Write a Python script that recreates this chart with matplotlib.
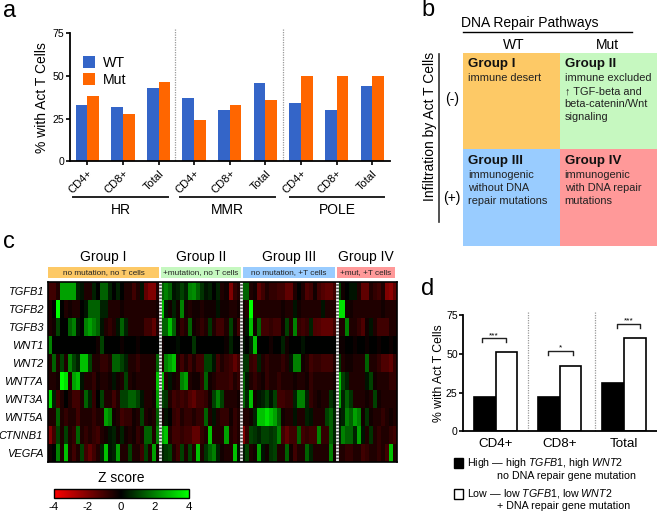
#!/usr/bin/env python3
"""Four panel figure: T cell infiltration vs DNA repair mutations -> out.png"""
import numpy as np
import matplotlib

matplotlib.use("Agg")
import matplotlib.pyplot as plt  # noqa: E402
from matplotlib.colors import LinearSegmentedColormap  # noqa: E402
from matplotlib.patches import Rectangle  # noqa: E402

plt.rcParams["font.family"] = ["Liberation Sans", "DejaVu Sans"]
plt.rcParams["mathtext.fontset"] = "custom"
plt.rcParams["mathtext.it"] = "Liberation Sans:italic"
plt.rcParams["mathtext.rm"] = "Liberation Sans"
plt.rcParams["axes.unicode_minus"] = False

W, H = 657, 513

# panel a
a_labels = ["CD4+", "CD8+", "Total"] * 3
a_wt = [33, 32, 43, 37, 30, 46, 34, 30, 44]
a_mut = [38, 27.5, 46.5, 24, 33, 36, 50, 50, 50]
a_groups = ["HR", "MMR", "POLE"]

# panel d
d_labels = ["CD4+", "CD8+", "Total"]
d_high = [22, 22, 31]
d_low = [51, 42, 60]
d_stars = ["***", "*", "***"]

genes = ["TGFB1", "TGFB2", "TGFB3", "WNT1", "WNT2", "WNT7A", "WNT3A", "WNT5A", "CTNNB1", "VEGFA"]
group_sizes = [28, 20, 24, 15]
tgfb1 = [-1, -1, -.5, 2.5, 2.5, 2.5, 2.5, .5, .3, -.5, -.5, .5, 0, 1.5, 1.5, .5, 0, .5, 0, -.5, -.5, -1, -.5, .3, -1.5, -2, -2, -.5,
         1.5, 2, 1.5, .3, .5, 1, .5, 2, 2.2, 1.5, .8, .3, .5, 0, .5, -.5, -.3, -2, -.8, -.5,
         1.5, 1.5, -.5, -.3, -1.5, -1, -.5, -.8, -.8, -1, -1, -1.5, -1.5, -.5, 0, -.5, -1.2, -1, -.3, -1, -1.3, -1.5, -1.5, -1,
         1, -.3, 0, .3, .3, -.5, -1.5, -1.5, -.5, -.8, -1, -.5, -2, -2.2, -1.5]
tgfb2 = [-.5, 0, 4, 0, -.5, -.3, -.5, -.5, 0, .3, 1.5, 1.5, 1.5, .5, .5, -.5, -.5, -.5, -.3, -.5, -.5, -.5, -.5, -.5, -.5, -.5, -.5, -.3,
         3, .3, -.3, .5, -.3, 2, -.3, -.5, -.3, -.3, -.5, -.3, -.3, -.3, .3, -.3, -.3, -.5, -.5, -.3,
         -.3, -.5, 4, -.5, -.5, -.5, -.5, -.5, -.5, -.5, -.3, -.5, -.5, .3, -.3, -.5, -.5, -.5, -.5, -.5, .3, -.5, -.5, -.5,
         3.5, 3.5, -.3, -.3, -.5, -.5, -.5, -.5, -.5, -.5, -.5, -.3, -.5, -.5, -.5]
tgfb3 = [-.5, -.3, 1, 0, 0, 1.5, 2, .3, 0, 2, 2.5, 2, 1.5, .3, -.5, -.8, -.5, .3, 1.5, .5, -.5, -.5, -.5, -.5, -1, -1, -1.5, -.5,
         1.5, 1.5, 3, 1.5, -.3, -.8, -.5, 1.5, -.3, -.5, -.8, -.5, .8, -.5, -1, -1, -.5, 1, -.3, -1,
         -.3, .3, 3, -.3, 1.5, -1, -1, -.8, -1, -1, -.3, 1, -.5, 2, -.8, -1, -.8, .5, -1.2, -1.3, -1.5, -1.5, -1.5, -1,
         -.5, -.5, 2, -.5, -.5, -.8, -1.2, -.3, .3, -.5, -1, -1, -1, -.5, -.5]
wnt1 = [2, 0, 0, 0, 0, 0, 0, 0, 0, 0, 0, 0, -.3, 1, 0, 0, 0, 0, -.2, 0, 0, 0, -.2, 0, 0, 0, 0, 0,
        -.2, 0, 0, 0, .2, 0, 0, 0, .8, 0, 0, 0, 0, 0, 0, 0, -.2, .5, 0, 0,
        .3, 0, .5, 3, 0, 0, 0, -.3, 0, 0, .5, -.3, 0, 0, 0, .3, 0, 0, 0, 0, 0, 0, 0, 0,
        -.2, -.2, 0, 0, -.2, 0, 0, -.2, 0, 0, -.2, 0, 0, -.2, 0]
wnt2 = [-.5, 1.5, -.5, 1, -.5, 2, 1, .5, 3, 3, 1, -.5, -.5, -.8, -.8, -.5, 1.5, 1.5, 1, .5, -.5, -.5, -.8, -.5, -.5, -.5, -.5, 1.5,
        -.5, 2, 2.5, 3, -.5, -1, -.5, -1, -.5, -1, -1, 1, 1, .3, -1, -.5, -.8, -1, -1.5, -1,
        .8, .8, -.8, -1, .5, -.5, -.8, -.5, -.5, -.5, -.8, -.5, .3, 2, 2, -.3, -.5, -1, -.8, -.8, -1, -1, -1, -.5,
        .8, -.5, -.3, -.3, -.5, -.5, -.5, 1.5, -.5, -.5, -.8, -1.2, -1.2, -1.5, -.8]
wnt7a = [-.5, -.5, -.3, 4, 3.5, -.5, 2.5, 3, .3, -.5, -.5, -.8, -.3, -.5, -.5, -.3, .3, -.3, -.5, 1, -.5, -.3, -.5, -.5, -.5, -.5, -.5, 3,
         3, -.5, .3, -.3, -.5, 2, 2.5, -.5, -.3, -.3, -.8, 1.5, -.3, -.5, -.8, -.8, -.8, -1, -.5, -.8,
         1.5, .3, -.5, -.8, -.5, -.3, -.8, -.5, -.5, -.8, -.5, -.5, -.5, -.3, -.5, -.5, -.3, -.8, -.5, -.5, -.5, -.5, -.5, -.3,
         3, 1, .5, -.5, -.5, -.5, -.5, .3, 1, -.3, -.5, -.5, -.5, -.8, -.8]
wnt3a = [3.5, .5, -1, -.5, 0, -.5, -1, -1, -.5, 1.5, .5, -.8, 0, 1, -.5, -.5, -1, -.5, 1, 1, 1.5, 1.5, 1, .3, -.5, -.5, -.3, 2.5,
         1, .8, -.5, -1, -.8, -1, -.8, -1.2, -1.5, -1, -1, -.8, -.3, 1, 2, 1, -.5, -.5, -.5, -.3,
         1.5, .5, 3, -.3, .3, .5, 1, .3, 1, -1, -1, -.8, -.8, .5, 2, 2, .5, -.8, -.5, -.3, -.5, -.5, .8, .3,
         2.5, .5, 1.5, .8, -.5, -.5, -.5, -.3, -.5, 1, -.3, -.5, -.5, -.5, -.5]
wnt5a = [-.5, -.5, 1.5, -.5, -.8, -.5, -.5, -1, -.5, -.5, -.5, -.8, -.5, -.5, 2.5, 2, -.3, -.5, -1, -.8, -.8, -.3, -.5, 1, -.5, -.3, -.5, 1.5,
         -.3, .3, 0, -.8, -1, -.5, -.8, -.8, -.5, -.8, -.8, 1.5, -.5, .3, -.5, -.8, -.8, -.3, -.8, -.5,
         -.5, -.5, -.3, .5, 3, 3, 3.5, 3, 2.5, 1.5, -.3, -.5, -.5, .3, -.5, -.5, .5, .3, -.5, -.5, -.5, 1, 1.5, .5,
         .3, .5, 2, 1.5, 2.5, 2, -.3, .8, -.3, -.5, -.5, -.8, -.5, -.3, -.5]
ctnnb1 = [-2, -1, 1, -.5, 1, -.5, -.8, 1.5, -.5, -.8, -.5, -.8, -1, -.5, -.3, .3, .5, -.3, .5, -.3, -.5, -.3, -.8, -.5, 1.5, 1.5, -.5, 2,
          2.5, 3, -.5, -1, -1, -.8, -1, -1, -1.5, -1.5, -.8, -.5, 3, -.5, -.5, -.5, 2.5, -.5, -.8, -.5,
          -2, -.8, 1, .8, .5, 1, 1, .8, 1, 2, -1, -1.5, -1, -1, 1.5, -1, -.8, -1, -1, 2, -.8, -.8, 1.5, .5,
          .5, 2, 1.5, 1.5, .5, 2.5, .3, -.5, .8, -.5, -.8, -.5, -.5, -.8, -1]
vegfa = [-.3, 0, 2, -.5, 3, -.5, -1, -.5, 1, -1, -1.5, -1, -.5, .5, 3, .3, .5, 2.5, -.5, -.5, 1, -.5, -.5, -1, 1, -.5, 2.5, -.3,
         .5, .8, 1, -.5, -1, 1, -.5, 1, -.5, 3, -.5, .8, 1.5, 2, .5, -.3, -.5, -.5, 3, .3,
         .3, 1, -.5, -.3, 2.5, .3, -.3, .8, 1, -.5, -.5, 1.5, -.3, -1, -.5, -.5, 1.5, .5, -.5, -.5, -.5, -.5, 2, -.3,
         -.5, -.5, -.8, -.8, -.5, -.5, -1, -.8, -.5, -.5, -.8, -.5, -1, 3, -.5]
z_rows = [tgfb1, tgfb2, tgfb3, wnt1, wnt2, wnt7a, wnt3a, wnt5a, ctnnb1, vegfa]

c_groups = ["Group I", "Group II", "Group III", "Group IV"]
c_sub = ["no mutation, no T cells", "+mutation, no T cells", "no mutation, +T cells", "+mut, +T cells"]
ORANGE, GREEN, BLUE, RED = "#FDC966", "#C6F8C0", "#99CCFF", "#FF9999"


def px_axes(fig, x0, y0, x1, y1, **kw):
    # axes from pixel box, y measured from the top
    return fig.add_axes([x0 / W, 1 - y1 / H, (x1 - x0) / W, (y1 - y0) / H], **kw)


def clean(ax):
    ax.spines["top"].set_visible(False)
    ax.spines["right"].set_visible(False)
    ax.spines["left"].set_linewidth(1.3)
    ax.spines["bottom"].set_linewidth(1.3)
    ax.patch.set_alpha(0)


fig = plt.figure(figsize=(W / 100, H / 100), dpi=100)

# overlay in pixel coordinates for the annotation bits
ov = fig.add_axes([0, 0, 1, 1])
ov.set_xlim(0, W); ov.set_ylim(H, 0); ov.axis("off")

# --- a
ax = px_axes(fig, 70, 33, 390, 161.3)
x = np.arange(9)
ax.bar(x - .164, a_wt, .328, color="#3465C8", label="WT")
ax.bar(x + .164, a_mut, .328, color="#FF6600", label="Mut")
ax.set_xlim(-.486, 8.5); ax.set_ylim(0, 75)
ax.set_yticks([0, 25, 50, 75])
ax.set_xticks(x)
ax.set_xticklabels(a_labels, rotation=45, ha="right", rotation_mode="anchor", fontsize=8)
ax.tick_params(axis="y", labelsize=7.6, width=1.2, length=3, pad=1)
ax.tick_params(axis="x", width=1.2, length=3, pad=2)
ax.set_ylabel("% with Act T Cells", fontsize=10, labelpad=3)
clean(ax)
ax.legend(loc="upper left", bbox_to_anchor=(.042, .82), frameon=False, fontsize=10.2, handlelength=.85,
          handleheight=.95, handletextpad=.55, labelspacing=.2, borderpad=0, borderaxespad=0)
for xv in (175, 283):
    ov.plot([xv, xv], [29, 161], color="#999999", lw=.9, ls=(0, (1, 1)))
for name, x0, x1 in zip(a_groups, (73, 180, 290), (168, 275, 384)):
    ov.plot([x0, x1], [196.5, 196.5], color="#222222", lw=1.4)
    ov.text((x0 + x1) / 2, 210, name, ha="center", va="center", fontsize=10)

# --- b
cells = [(463.3, 52.7, ORANGE), (560, 52.7, GREEN), (463.3, 149.3, BLUE), (560, 149.3, RED)]
for cx, cy, col in cells:
    ov.add_patch(Rectangle((cx, cy), 96.7, 96.6, color=col, lw=0))
b_titles = ["Group I", "Group II", "Group III", "Group IV"]
b_lines = [["immune desert"],
           ["immune excluded", "↑ TGF-beta and", "beta-catenin/Wnt", "signaling"],
           ["immunogenic", "without DNA", "repair mutations"],
           ["immunogenic", "with DNA repair", "mutations"]]
for (cx, cy, col), t, lines in zip(cells, b_titles, b_lines):
    ov.text(cx + 4.7, cy + 11.3, t, fontsize=9.6, fontweight="bold", va="center", color="#111111")
    for i, ln in enumerate(lines):
        ov.text(cx + 4.7, cy + 25.5 + 13 * i, ln, fontsize=7.9, va="center", color="#222222")
ov.text(530, 23.5, "DNA Repair Pathways", ha="center", va="center", fontsize=10)
ov.plot([463.3, 631.7], [31.7, 31.7], color="k", lw=1)
ov.text(514, 44.7, "WT", ha="center", va="center", fontsize=10)
ov.text(607, 44.7, "Mut", ha="center", va="center", fontsize=10)
ov.plot([439, 439], [54, 222], color="#333333", lw=1.2)
ov.text(430, 126, "Infiltration by Act T Cells", rotation=90, ha="center", va="center", fontsize=10)
ov.text(452, 99, "(-)", ha="center", va="center", fontsize=10)
ov.text(452, 198, "(+)", ha="center", va="center", fontsize=10)

# --- c
rg = LinearSegmentedColormap.from_list("rg", ["#FF0000", "#000000", "#00FF00"])
hm = px_axes(fig, 48, 282, 397, 462)
im = hm.imshow(np.array(z_rows), cmap=rg, vmin=-4, vmax=4, aspect="auto", interpolation="nearest")
hm.set_xticks([])
hm.set_yticks(range(len(genes)))
hm.set_yticklabels(genes, fontsize=7.9, fontstyle="italic")
hm.tick_params(axis="y", length=0, pad=3.5)
for s in hm.spines.values():
    s.set_linewidth(1.2)
for xv in np.cumsum(group_sizes)[:-1]:
    hm.axvline(xv - .5, color="white", lw=2)
    hm.axvline(xv - .5, color="#555555", lw=2, ls=(0, (.6, .6)))
heads = [(48, 159, ORANGE), (161, 241, GREEN), (243, 335, BLUE), (337, 395, RED)]
for (x0, x1, col), t, sub in zip(heads, c_groups, c_sub):
    ov.add_patch(Rectangle((x0, 267), x1 - x0, 11, color=col, lw=0))
    ov.text((x0 + x1) / 2, 257, t, ha="center", va="center", fontsize=10)
    ov.text((x0 + x1) / 2, 272.7, sub, ha="center", va="center", fontsize=5.9, color="#222222")
cax = px_axes(fig, 53.5, 489, 188.5, 497.5)
cb = fig.colorbar(im, cax=cax, orientation="horizontal", ticks=[-4, -2, 0, 2, 4])
cb.ax.tick_params(labelsize=8.2, length=0, pad=3.5)
cb.outline.set_linewidth(1)
ov.text(121, 477.5, "Z score", ha="center", va="center", fontsize=10)

# --- d
ax = px_axes(fig, 463.3, 315, 656.7, 431.3)
x = np.arange(3)
ax.bar(x - .168, d_high, .336, color="k", edgecolor="k", lw=1.2)
ax.bar(x + .168, d_low, .336, color="w", edgecolor="k", lw=1.2)
ax.set_xlim(-.503, 2.51); ax.set_ylim(0, 75)
ax.set_yticks([0, 25, 50, 75])
ax.set_xticks(x)
ax.set_xticklabels(d_labels, fontsize=9.6)
ax.tick_params(axis="y", labelsize=7.6, width=1.2, length=3, pad=1)
ax.tick_params(axis="x", length=0, pad=5)
ax.set_ylabel("% with Act T Cells", fontsize=8.8, labelpad=0.5)
clean(ax)
for xv in (528, 594.7):
    ov.plot([xv, xv], [311.7, 431], color="#999999", lw=.9, ls=(0, (1, 1)))
for (x0, x1, ytop), s in zip([(481.7, 506, 338), (548, 573, 350.7), (616.7, 640, 323.7)], d_stars):
    ov.plot([x0, x0, x1, x1], [ytop + 4, ytop, ytop, ytop + 4], color="#222222", lw=1)
    ov.text((x0 + x1) / 2, ytop - 2.5, s, ha="center", va="center", fontsize=6)
ov.add_patch(Rectangle((453.5, 458), 9.5, 9.5, fc="k", ec="k", lw=1))
ov.add_patch(Rectangle((453.5, 489), 9.5, 9.5, fc="w", ec="k", lw=1))
ov.text(467, 463, r"High — high $\it{TGFB1}$, high $\it{WNT2}$", va="center", fontsize=7.7)
ov.text(497, 476, "no DNA repair gene mutation", va="center", fontsize=7.7)
ov.text(467, 493, r"Low — low $\it{TGFB1}$, low $\it{WNT2}$", va="center", fontsize=7.7)
ov.text(497, 506, "+ DNA repair gene mutation", va="center", fontsize=7.7)

# panel letters
for s, px, py in [("a", 3, 11), ("b", 421, 10), ("c", 3, 242), ("d", 421, 289)]:
    ov.text(px, py, s, fontsize=17, va="center", ha="left")

fig.savefig("out.png", dpi=100)
